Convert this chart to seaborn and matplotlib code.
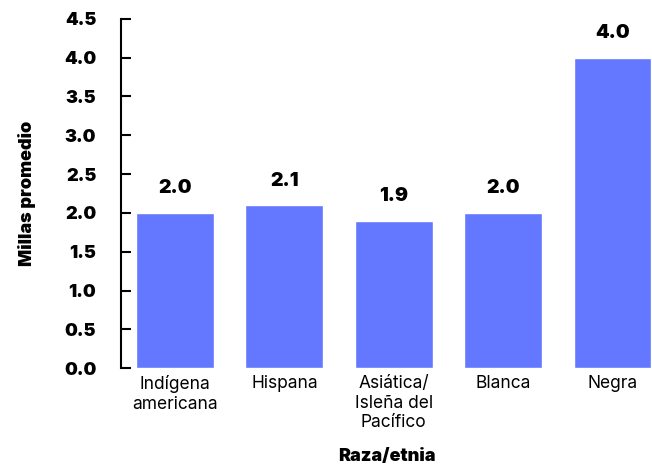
import numpy as np
import pandas as pd
import matplotlib
matplotlib.use("Agg")
import matplotlib.pyplot as plt
import seaborn as sns

# ============================================================
# DATA
# ============================================================
groups = ["Indígena\namericana", "Hispana", "Asiática/\nIsleña del\nPacífico", "Blanca", "Negra"]
miles = [2.0, 2.1, 1.9, 2.0, 4.0]
value_labels = ["2.0", "2.1", "1.9", "2.0", "4.0"]
yticks = [0.0, 0.5, 1.0, 1.5, 2.0, 2.5, 3.0, 3.5, 4.0, 4.5]

df = pd.DataFrame({"grupo": groups, "millas": miles})

# ============================================================
# PLOT
# ============================================================
sns.set_style("white")
plt.rcParams["font.family"] = ["Inter", "DejaVu Sans"]
plt.rcParams["text.color"] = "black"
plt.rcParams["axes.labelcolor"] = "black"

fig = plt.figure(figsize=(6.52, 4.72), dpi=100)
ax = fig.add_axes([0.186, 0.22, 0.814, 0.74])

sns.barplot(data=df, x="grupo", y="millas", color="#6378FF", saturation=1,
            width=0.71, ax=ax)

for i, (v, lab) in enumerate(zip(miles, value_labels)):
    ax.text(i, v + 0.2, lab, ha="center", va="bottom",
            fontsize=14, fontweight=900, color="black")

ax.set_ylim(0, 4.5)
ax.set_xlim(-0.49, 4.36)
ax.set_yticks(yticks)
ax.set_yticklabels([f"{t:.1f}" for t in yticks], fontsize=13, fontweight=900)
ax.tick_params(axis="y", left=True, direction="in", length=7, width=1.5,
               pad=18, colors="black")
ax.tick_params(axis="x", length=0, pad=5, labelsize=12.5, colors="black")

for s in ["top", "right", "bottom"]:
    ax.spines[s].set_visible(False)
ax.spines["left"].set_linewidth(1.5)
ax.spines["left"].set_color("black")

ax.set_xlabel("Raza/etnia", fontsize=13, fontweight=900, labelpad=12)
ax.set_ylabel("Millas promedio", fontsize=13, fontweight=900, labelpad=20)

plt.savefig("out.png", dpi=100)
plt.close()
